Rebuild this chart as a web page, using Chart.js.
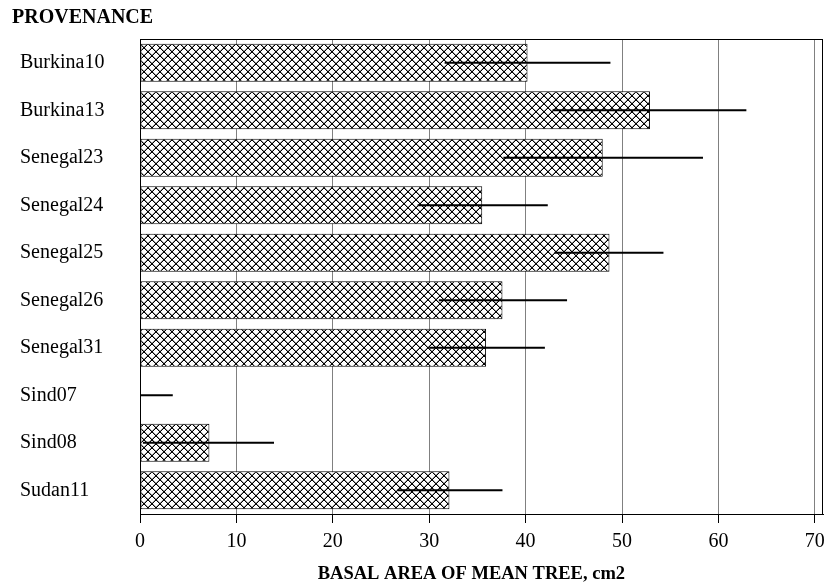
<!DOCTYPE html>
<html>
<head>
<meta charset="utf-8">
<script src="https://cdn.jsdelivr.net/npm/chart.js@4/dist/chart.umd.min.js"></script>
<style>
  html, body { margin: 0; padding: 0; background: #fff; }
  #wrap { width: 827px; height: 585px; }
</style>
</head>
<body>
<div id="wrap"><canvas id="c" width="827" height="585"></canvas></div>
<script>
const categories = ["Burkina10","Burkina13","Senegal23","Senegal24","Senegal25","Senegal26","Senegal31","Sind07","Sind08","Sudan11"];
const basalArea = [40.2, 52.9, 48.0, 35.5, 48.7, 37.6, 35.9, 0, 7.2, 32.1];
const errLow  = [31.6, 42.8, 37.7, 28.8, 43.0, 31.0, 30.0, 0, 0.3, 26.7];
const errHigh = [48.8, 62.9, 58.4, 42.3, 54.3, 44.3, 42.0, 3.4, 13.9, 37.6];
const xTicks = [0, 10, 20, 30, 40, 50, 60, 70];
const yTitle = "PROVENANCE";
const xTitle = "BASAL AREA OF MEAN TREE, cm2";

const FONT = "'Liberation Serif', 'Times New Roman', serif";

function makeHatch() {
  const t = document.createElement('canvas');
  t.width = 8; t.height = 8;
  const g = t.getContext('2d');
  g.fillStyle = '#fff';
  g.fillRect(0, 0, 8, 8);
  g.fillStyle = '#9a9a9a';
  for (let i = 0; i < 8; i++) {
    g.fillRect((i + 1) % 8, i, 1, 1);
    g.fillRect((7 - i + 7) % 8, i, 1, 1);
  }
  g.fillStyle = '#000';
  for (let i = 0; i < 8; i++) {
    g.fillRect(i, i, 1, 1);
    g.fillRect(7 - i, i, 1, 1);
  }
  return g.createPattern(t, 'repeat');
}

const extras = {
  id: 'extras',
  afterDatasetsDraw(chart) {
    const ctx = chart.ctx;
    const xs = chart.scales.x, ys = chart.scales.y;
    ctx.save();
    ctx.strokeStyle = '#000';
    ctx.lineWidth = 2;
    for (let i = 0; i < categories.length; i++) {
      const y = ys.getPixelForValue(i);
      ctx.beginPath();
      ctx.moveTo(xs.getPixelForValue(errLow[i]), y);
      ctx.lineTo(xs.getPixelForValue(errHigh[i]), y);
      ctx.stroke();
    }
    const a = chart.chartArea;
    ctx.lineWidth = 1;
    ctx.strokeStyle = '#000';
    ctx.strokeRect(Math.round(a.left) + 0.5, Math.round(a.top) + 0.5,
                   Math.round(a.right - a.left) - 1, Math.round(a.bottom - a.top));
    ctx.restore();
  },
  afterDraw(chart) {
    const ctx = chart.ctx;
    const xs = chart.scales.x;
    ctx.save();
    ctx.fillStyle = '#000';
    ctx.font = "bold 20px " + FONT;
    ctx.textBaseline = 'middle';
    ctx.textAlign = 'left';
    ctx.fillText(yTitle, 12, 18);
    ctx.font = "bold 18.5px " + FONT;
    ctx.textAlign = 'center';
    const cx = (xs.getPixelForValue(0) + xs.getPixelForValue(70)) / 2 - 6;
    ctx.fillText(xTitle, cx, 574);
    ctx.restore();
  }
};

const canvas = document.getElementById('c');
const ctx = canvas.getContext('2d');

new Chart(ctx, {
  type: 'bar',
  data: {
    labels: categories,
    datasets: [{
      data: basalArea,
      backgroundColor: makeHatch(),
      borderColor: '#000',
      borderWidth: 1,
      borderSkipped: false,
      barPercentage: 0.8,
      categoryPercentage: 1.0
    }]
  },
  options: {
    indexAxis: 'y',
    responsive: false,
    animation: false,
    devicePixelRatio: 1,
    layout: { padding: { left: 20, right: 4, top: 39, bottom: 0 } },
    plugins: { legend: { display: false }, tooltip: { enabled: false }, title: { display: false } },
    scales: {
      x: {
        type: 'linear',
        min: 0,
        max: 70.85,
        afterBuildTicks(scale) { scale.ticks = xTicks.map(v => ({ value: v })); },
        afterFit(scale) { scale.height = 71; scale.paddingLeft = 0; scale.paddingRight = 0; },
        grid: {
          color: (c) => (c.tick && c.tick.value === 0) ? '#000' : '#808080',
          lineWidth: 1,
          tickLength: 9,
          tickColor: '#000',
          drawOnChartArea: true
        },
        border: { display: true, color: '#000', width: 1 },
        ticks: {
          color: '#000',
          font: { family: FONT, size: 20 },
          padding: 7,
          maxRotation: 0
        },
        title: { display: false }
      },
      y: {
        type: 'category',
        afterFit(scale) { scale.width = 120; scale.paddingTop = 0; scale.paddingBottom = 0; },
        grid: { display: false, drawTicks: false },
        border: { display: true, color: '#000', width: 1 },
        ticks: {
          color: '#000',
          font: { family: FONT, size: 20 },
          crossAlign: 'far',
          padding: 0
        }
      }
    }
  },
  plugins: [extras]
});
</script>
</body>
</html>
